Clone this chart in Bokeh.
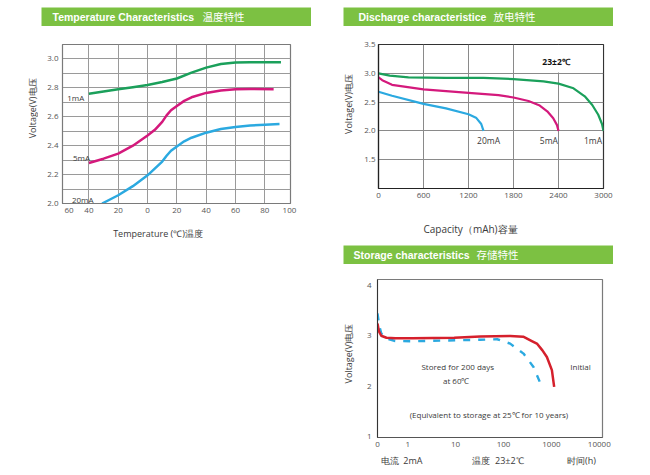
import math

from bokeh.core.properties import value
from bokeh.embed import file_html
from bokeh.layouts import column, row
from bokeh.models import (BoxAnnotation, FixedTicker, Label, PrintfTickFormatter,
                          Range1d, Spacer)
from bokeh.plotting import figure
from bokeh.resources import INLINE

# ---------------------------------------------------------------- data
# Temperature characteristics: voltage vs temperature (deg C)
temp_1mA = [-40, -30, -20, -10, 0, 10, 20, 30, 40, 50, 60, 70, 80, 91]
volt_1mA = [2.76, 2.775, 2.79, 2.805, 2.82, 2.84, 2.865, 2.905, 2.94, 2.965,
            2.975, 2.978, 2.978, 2.978]
temp_5mA = [-40, -30, -20, -10, 0, 5, 10, 13, 16, 20, 25, 30, 40, 50, 60, 70,
            86]
volt_5mA = [2.28, 2.31, 2.345, 2.40, 2.47, 2.51, 2.565, 2.61, 2.645, 2.675,
            2.71, 2.735, 2.765, 2.782, 2.79, 2.792, 2.79]
temp_20mA = [-31, -20, -10, 0, 10, 13, 16, 20, 25, 30, 40, 50, 60, 70, 80, 90]
volt_20mA = [2.0, 2.057, 2.12, 2.195, 2.29, 2.33, 2.365, 2.395, 2.43, 2.455,
             2.49, 2.515, 2.53, 2.54, 2.545, 2.55]
temp_ticks = [-53.6, -40, -20, 0, 20, 40, 60, 80, 96.8]
temp_tick_labels = ["60", "40", "20", "0", "20", "40", "60", "80", "100"]

# Discharge characteristics: voltage vs capacity (mAh)
cap_1mA = [0, 150, 400, 900, 1400, 1800, 2200, 2400, 2600, 2750, 2850, 2930,
           2980, 3000]
dis_1mA = [3.00, 2.96, 2.93, 2.92, 2.92, 2.90, 2.86, 2.82, 2.74, 2.60, 2.45,
           2.28, 2.12, 2.00]
cap_5mA = [0, 50, 180, 600, 1200, 1600, 1800, 2000, 2150, 2250, 2330, 2380,
           2400]
dis_5mA = [2.93, 2.88, 2.80, 2.72, 2.66, 2.62, 2.58, 2.52, 2.44, 2.34, 2.22,
           2.10, 2.00]
cap_20mA = [0, 180, 600, 900, 1200, 1300, 1370, 1400]
dis_20mA = [2.68, 2.61, 2.47, 2.39, 2.29, 2.23, 2.12, 2.00]

# Storage characteristics: voltage vs time (h), log axis
hours_initial = [0.234, 0.25, 0.28, 0.36, 0.55, 1.24, 9.35, 32.6, 138, 258,
                 400, 498, 650, 805, 1024, 1143]
volt_initial = [3.24, 3.09, 3.00, 2.96, 2.95, 2.95, 2.96, 2.985, 2.995, 2.98,
                2.89, 2.845, 2.71, 2.58, 2.32, 1.99]
hours_stored = [0.234, 0.254, 0.28, 0.339, 0.548, 1.24, 32.6, 73.9, 138, 262,
                423, 634]
volt_stored = [3.44, 3.205, 3.047, 2.949, 2.895, 2.89, 2.92, 2.93, 2.844,
               2.647, 2.383, 1.988]
hour_ticks = [0.234, 1, 10, 100, 1000, 10000]
hour_tick_labels = ["0", "1", "10", "100", "1000", "10000"]

# ---------------------------------------------------------------- style
BAR = "#7CC142"
GREEN = "#1BA05B"
MAGENTA = "#D4197C"
BLUE = "#2BA9E0"
RED = "#D5202C"
FONT = "Open Sans"
TEXT = "#3a3a3a"


def bare(width, height, **kw):
    """A figure without axes whose ranges are its own pixel extents."""
    return figure(width=width, height=height, x_range=Range1d(0, width),
                  y_range=Range1d(0, height), x_axis_type=None,
                  y_axis_type=None, output_backend="svg",
                  toolbar_location=None, min_border=0,
                  outline_line_color=None, **kw)


def header(latin, cjk, x_latin, x_cjk):
    h = bare(270, 19, background_fill_color=BAR, border_fill_color=BAR)
    h.text(x=[x_latin], y=[9.8], text=[latin], text_color="white",
           text_font=value("Liberation Sans"), text_font_style="bold",
           text_font_size="10.5px", text_baseline="middle")
    h.text(x=[x_cjk], y=[9.8], text=[cjk], text_color="white",
           text_font=value("Noto Sans CJK SC"), text_font_size="10.5px",
           text_baseline="middle")
    return h


def caption(width, height, items, angle=0.0):
    """Panel holding axis titles and notes placed beside a chart."""
    c = bare(width, height)
    for x, y, text, size in items:
        c.text(x=[x], y=[y], text=[text], text_color=TEXT,
               text_font=value(FONT), text_font_size=size,
               text_align="center", text_baseline="middle", angle=angle)
    return c


def style_axes(p, standoff_x, standoff_y):
    for ax in (p.xaxis[0], p.yaxis[0]):
        ax.major_tick_line_color = None
        ax.minor_tick_line_color = None
        ax.major_tick_out = 0
        ax.major_tick_in = 0
        ax.minor_tick_out = 0
        ax.major_label_text_font = FONT
        ax.major_label_text_font_size = "8px"
        ax.major_label_text_color = "#555555"
    p.xaxis.major_label_standoff = standoff_x
    p.yaxis.major_label_standoff = standoff_y


def note(p, x, y, text, size="8px", color=TEXT, bold=False, align="center"):
    p.add_layout(Label(x=x, y=y, text=text, text_font=FONT,
                       text_font_size=size, text_color=color,
                       text_font_style="bold" if bold else "normal",
                       text_align=align, text_baseline="middle"))


# ---------------------------------------------------------------- temperature
pt = figure(width=287, height=194, x_range=Range1d(-58, 97.5),
            y_range=Range1d(2.0, 3.1), output_backend="svg",
            toolbar_location=None, min_border_left=24, min_border_right=35,
            min_border_top=18, min_border_bottom=17,
            outline_line_color="#7a7a7a", outline_line_width=1.2)
style_axes(pt, 4, 4)
pt.xaxis.ticker = FixedTicker(ticks=temp_ticks)
pt.xaxis.major_label_overrides = dict(zip(temp_ticks, temp_tick_labels))
pt.yaxis.ticker = FixedTicker(ticks=[2.0, 2.2, 2.4, 2.6, 2.8, 3.0])
pt.yaxis.formatter = PrintfTickFormatter(format="%.1f")
pt.xaxis.axis_line_color = "#7a7a7a"
pt.yaxis.axis_line_color = "#7a7a7a"
pt.xgrid.ticker = FixedTicker(ticks=[-40, -20, 0, 20, 40, 60, 80])
pt.ygrid.ticker = FixedTicker(ticks=[2.1, 2.2, 2.3, 2.4, 2.5, 2.6, 2.7, 2.8,
                                     2.9, 3.0])
pt.grid.grid_line_color = "#9a9a9a"
pt.grid.grid_line_width = 1

pt.line(temp_1mA, volt_1mA, line_color=GREEN, line_width=2.5)
pt.line(temp_5mA, volt_5mA, line_color=MAGENTA, line_width=2.5)
pt.line(temp_20mA, volt_20mA, line_color=BLUE, line_width=2.5)

note(pt, -54.8, 2.733, "1mA", align="left")
note(pt, -50.9, 2.321, "5mA", align="left")
note(pt, -51.6, 2.03, "20mA", align="left")

temp_ytitle = caption(38, 194, [(32, 220 - 104, "Voltage(V)\u7535\u538b", "9px")],
                      angle=math.pi / 2)
temp_xtitle = caption(325, 25, [(157.5, 12, "Temperature (\u2103)\u6e29\u5ea6",
                                 "9px")])

# ---------------------------------------------------------------- discharge
pd_ = figure(width=290, height=184, x_range=Range1d(0, 3000),
             y_range=Range1d(1.0, 3.5), output_backend="svg",
             toolbar_location=None, min_border_left=18, min_border_right=47,
             min_border_top=18, min_border_bottom=22,
             outline_line_color="#333333", outline_line_width=1.2)
style_axes(pd_, 4, 3)
pd_.xaxis.ticker = FixedTicker(ticks=[0, 600, 1200, 1800, 2400, 3000])
pd_.yaxis.ticker = FixedTicker(ticks=[1.5, 2.0, 2.5, 3.0, 3.5])
pd_.yaxis.formatter = PrintfTickFormatter(format="%.1f")
pd_.xaxis.axis_line_color = "#222222"
pd_.yaxis.axis_line_color = "#222222"
pd_.xaxis.axis_line_width = 1.2
pd_.yaxis.axis_line_width = 1.2
pd_.xgrid.ticker = FixedTicker(ticks=[600, 1200, 1800, 2400])
pd_.ygrid.ticker = FixedTicker(ticks=[1.5, 2.0, 2.5, 3.0])
pd_.grid.grid_line_color = "#8a8a8a"

# blank panel behind the temperature note
pd_.add_layout(BoxAnnotation(left=2000, right=2990, bottom=3.015, top=3.49,
                             fill_color="white", fill_alpha=1.0,
                             line_color=None, level="underlay"))

pd_.line(cap_1mA, dis_1mA, line_color=GREEN, line_width=2.2)
pd_.line(cap_5mA, dis_5mA, line_color=MAGENTA, line_width=2.2)
pd_.line(cap_20mA, dis_20mA, line_color=BLUE, line_width=2.2)

note(pd_, 1467, 1.833, "20mA", size="8.5px")
note(pd_, 2271, 1.833, "5mA", size="8.5px")
note(pd_, 2860, 1.833, "1mA", size="8.5px")
note(pd_, 2367, 3.205, "23\u00b12\u2103", size="8.5px", color="#111111",
     bold=True)

dis_ytitle = caption(35, 184, [(23, 210 - 102, "Voltage(V)\u7535\u538b", "9px")],
                     angle=math.pi / 2)
dis_xtitle = caption(325, 35, [(145, 17, "Capacity\uff08mAh)\u5bb9\u91cf",
                                "10px")])

# ---------------------------------------------------------------- storage
ps = figure(width=290, height=188, x_axis_type="log",
            x_range=Range1d(0.234, 11670), y_range=Range1d(0.99, 4.11),
            output_backend="svg", toolbar_location=None,
            min_border_left=17, min_border_right=48, min_border_top=15,
            min_border_bottom=15, outline_line_color="#7a7a7a",
            outline_line_width=1.2)
style_axes(ps, 4, 6)
ps.xaxis.ticker = FixedTicker(ticks=hour_ticks)
ps.xaxis.major_label_overrides = dict(zip(hour_ticks, hour_tick_labels))
ps.yaxis.ticker = FixedTicker(ticks=[1, 2, 3, 4])
ps.xaxis.axis_line_color = "#555555"
ps.yaxis.axis_line_color = "#333333"
ps.grid.grid_line_color = None

ps.line(hours_stored, volt_stored, line_color=BLUE, line_width=2.4,
        line_dash="7 8")
ps.line(hours_initial, volt_initial, line_color=RED, line_width=2.5)

note(ps, 11.1, 2.40, "Stored for 200 days")
note(ps, 10.3, 2.12, "at 60\u2103")
note(ps, 4053, 2.40, "Initial")
note(ps, 49.6, 1.45, "(Equivalent to storage at 25\u2103 for 10 years)")

sto_ytitle = caption(35, 188, [(23, 452 - 352, "Voltage(V)\u7535\u538b", "9px")],
                     angle=math.pi / 2)
sto_notes = caption(325, 23, [(76, 15, "\u7535\u6d41\u00a0 2mA", "9px"),
                              (173, 15, "\u6e29\u5ea6\u00a0 23\u00b12\u2103", "9px"),
                              (256, 15, "\u65f6\u95f4(h)", "9px")])

# ---------------------------------------------------------------- page
h1 = header("Temperature Characteristics", "\u6e29\u5ea6\u7279\u6027", 11, 161)
h2 = header("Discharge characteristice", "\u653e\u7535\u7279\u6027", 15, 150)
h3 = header("Storage characteristics", "\u5b58\u50a8\u7279\u6027", 10, 133)

left = column(Spacer(width=325, height=7),
              row(Spacer(width=41, height=19), h1),
              row(temp_ytitle, pt),
              temp_xtitle)
right = column(Spacer(width=325, height=7),
               row(Spacer(width=18, height=19), h2),
               row(dis_ytitle, pd_),
               dis_xtitle,
               row(Spacer(width=18, height=19), h3),
               row(sto_ytitle, ps),
               sto_notes)
page = row(left, right)

open("out.html", "w").write(file_html(page, INLINE))
